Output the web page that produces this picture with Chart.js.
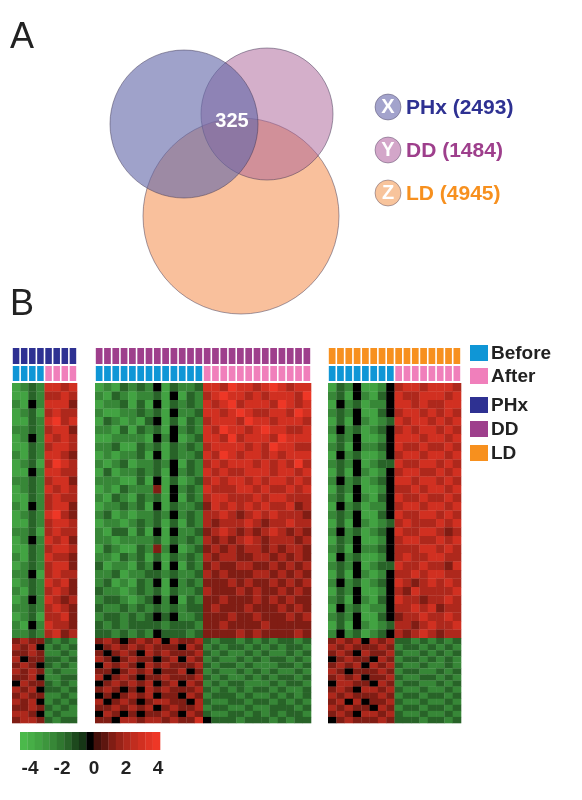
<!DOCTYPE html>
<html>
<head>
<meta charset="utf-8">
<script src="https://cdn.jsdelivr.net/npm/chart.js@4.4.1/dist/chart.umd.min.js"></script>
<style>
  body { margin: 0; background: #fff; }
  canvas { display: block; }
</style>
</head>
<body>
<canvas id="myChart" width="582" height="800"></canvas>
<script>
// venn sets
const setNames = ['PHx', 'DD', 'LD'];
const setLetters = ['X', 'Y', 'Z'];
const setSizes = [2493, 1484, 4945];
const overlapAll = 325;

// heatmap groups: columns before / after
const groupCols = [[4, 4], [13, 13], [8, 8]];

// each char is an expression value + 4 (0 = -4, 8 = +4)
const phxRows = [
  "12327767","11326676","21427775","12316766","11327867","22326775","12427676","11326776",
  "21327765","12316876","11427766","22326775","12327676","11326766","21426775","12327865",
  "11326776","22316766","12427675","11326776","21327665","12326775","22416766","12327675",
  "21326765","12427656","22326765","12316675","21427665","22326756",
  "56553232","65642323","55652232","64553323","56543232","65652322","55642233","46553232",
  "65643323","56552232","65642323","55653232","66542322","56653233"
];
const ddRows = [
  "12132324132237768776787677","21321223141326787767677768","12231314132327678677768767",
  "21122323142237767876677687","13212134131326777687767776","22131323142327687767877667",
  "11222214241237768677768777","22311323132326777767687766","12122314132237687677676777",
  "21231223241326767776767686","13122323142327676677767767","22211314131236767767677676",
  "12132225142327666776766767","21321323141326776667677666","12232314132235767676766756",
  "23121223242326676567676665","12212323131326566676566766","21331314142235676565676565",
  "22122223132326565676566656","13211325241235656566565665","22132313132326566556656565",
  "31221324141325655665565656","22312233232236565556656565","23121324142325556565565656",
  "32212323132236555656556565","23321234241325565556565655","32232323232335655565556565",
  "23323234342235556556555656","32323333233325565555655555","33232324333235555656555565",
  "56545656465563233232323323","45656565554652323323232332","54565465655563232232322323",
  "65456554564652322323233232","46565465655563233232223323","55456564556452322323232232",
  "64565455655563232232323323","45656564564652323322232332","56545465655563232323323223",
  "45456564554652333232232323","64565456655463223323323232","55656564565562332232233323",
  "46545455654653223323232332","55466566565574333233323233"
];
const ldRows = [
  "1324112467767776","2314213476677767","1423122477676677","2324113467767676",
  "1314212376776767","2423123467677676","1324112477767767","2314223476676676",
  "1423112467767767","2324123376677676","1314212467766767","2423123477677676",
  "1324112466767767","2314213476676676","1423122467767767","2324113476677676",
  "1314212367666767","2423123476677656","1324112467766767","2314223466677676",
  "1423112467667766","2324123376676657","1314212466767766","2423123476567676",
  "1324112465766667","2314213476656676","1423122466767566","2324113456676676",
  "1314212366567667","2423123465676566",
  "5656465633232323","6565556523323232","5654655632232323","4565546523323232",
  "5656465632232232","6545556523322323","5656455632233232","4665546523322323",
  "5654665632232232","6565556523323323","5646455632232232","6565546523323323",
  "5654665632232232","4565556533323323"
];
const upperRows = 30;

// colour bar
const barValues = [-4, -3.5, -3, -2.5, -2, -1.5, -1, -0.5, -0.25, 0, 0.25, 0.5, 1, 1.5, 2, 2.5, 3, 3.5, 4];
const barTicks = ['-4', '-2', '0', '2', '4'];

// layout (in canvas units, scale is 1:1 with pixels)
const groupX = [[12, 77], [95, 311], [328, 461]];
const heatTop = 383, heatSplit = 638, heatBottom = 723;
const groupColors = ['#2e3192', '#9e3f8c', '#f7901e'];
const beforeColor = '#0f96d6', afterColor = '#f07fbb';

function heatColor(v) {
  const t = Math.min(1, Math.abs(v) / 4);
  const s = Math.pow(t, 0.45);
  if (v < 0) return `rgb(${Math.round(75 * s)},${Math.round(185 * s)},${Math.round(75 * s)})`;
  return `rgb(${Math.round(238 * s)},${Math.round(55 * s)},${Math.round(38 * s)})`;
}

const heatPlugin = {
  id: 'heat',
  afterDatasetsDraw(chart) {
    const c = chart.ctx, xs = chart.scales.x, ys = chart.scales.y;
    const rect = (x0, y0, x1, y1, col) => {
      const a = xs.getPixelForValue(x0), b = xs.getPixelForValue(x1);
      const p = ys.getPixelForValue(y0), q = ys.getPixelForValue(y1);
      c.fillStyle = col;
      c.fillRect(a, p, b - a, q - p);
    };
    const txt = (s, x, y, font, col, align) => {
      c.font = font; c.fillStyle = col; c.textAlign = align || 'left'; c.textBaseline = 'middle';
      c.fillText(s, xs.getPixelForValue(x), ys.getPixelForValue(y));
    };
    c.save();
    [phxRows, ddRows, ldRows].forEach((rows, g) => {
      const [x0, x1] = groupX[g];
      const nc = groupCols[g][0] + groupCols[g][1];
      const cw = (x1 - x0) / nc;
      for (let j = 0; j < nc; j++) {
        const a = x0 + j * cw;
        rect(a + 0.8, 348, a + cw - 0.8, 364, groupColors[g]);
        rect(a + 0.8, 366, a + cw - 0.8, 381, j < groupCols[g][0] ? beforeColor : afterColor);
      }
      const lower = rows.length - upperRows;
      rows.forEach((r, i) => {
        let y0, y1;
        if (i < upperRows) {
          const h = (heatSplit - heatTop) / upperRows;
          y0 = heatTop + i * h; y1 = y0 + h;
        } else {
          const h = (heatBottom - heatSplit) / lower;
          y0 = heatSplit + (i - upperRows) * h; y1 = y0 + h;
        }
        for (let j = 0; j < nc; j++) {
          rect(x0 + j * cw, y0, x0 + (j + 1) * cw + 0.3, y1 + 0.3, heatColor(+r[j] - 4));
        }
      });
    });
    // colour bar
    const bw = 140 / barValues.length;
    barValues.forEach((v, i) => rect(20 + i * bw, 732, 20 + (i + 1) * bw + 0.3, 750, heatColor(v)));
    barTicks.forEach((t, i) => txt(t, 30 + i * 32, 769, 'bold 19px "Liberation Sans", Arial', '#222', 'center'));
    // legend
    [['Before', beforeColor, 353], ['After', afterColor, 376]].forEach(([s, col, y]) => {
      rect(470, y - 8, 488, y + 8, col);
      txt(s, 491, y + 1, 'bold 19px "Liberation Sans", Arial', '#222');
    });
    setNames.forEach((s, i) => {
      const y = 405 + i * 24;
      rect(470, y - 8, 488, y + 8, groupColors[i]);
      txt(s, 491, y + 1, 'bold 19px "Liberation Sans", Arial', '#222');
    });
    // panel letters and venn labels
    txt('A', 10, 38, '36px "Liberation Sans", Arial', '#222');
    txt('B', 10, 305, '36px "Liberation Sans", Arial', '#222');
    txt(String(overlapAll), 232, 121, 'bold 20px "Liberation Sans", Arial', '#fff', 'center');
    const tc = ['#2e3192', '#9e3f8c', '#f7901e'];
    setNames.forEach((s, i) => {
      const y = 107 + i * 43;
      txt(setLetters[i], 388, y, 'bold 20px "Liberation Sans", Arial', '#fff', 'center');
      txt(s + ' (' + setSizes[i] + ')', 406, y + 1, 'bold 21px "Liberation Sans", Arial', tc[i]);
    });
    c.restore();
  }
};

new Chart(document.getElementById('myChart'), {
  type: 'bubble',
  data: {
    datasets: [
      { label: 'PHx', data: [{ x: 184, y: 124, r: 74 }], backgroundColor: 'rgba(100,105,170,0.62)', borderColor: 'rgba(60,50,80,0.6)', borderWidth: 0.8 },
      { label: 'DD', data: [{ x: 267, y: 114, r: 66 }], backgroundColor: 'rgba(170,95,150,0.5)', borderColor: 'rgba(60,50,80,0.6)', borderWidth: 0.8 },
      { label: 'LD', data: [{ x: 241, y: 216, r: 98 }], backgroundColor: 'rgba(245,150,90,0.6)', borderColor: 'rgba(60,50,80,0.6)', borderWidth: 0.8 },
      { label: 'keys', data: [{ x: 388, y: 107, r: 13 }, { x: 388, y: 150, r: 13 }, { x: 388, y: 193, r: 13 }],
        backgroundColor: ['#a3a3cc', '#d3a6c9', '#f8c49c'], borderColor: 'rgba(60,50,80,0.5)', borderWidth: 0.8 }
    ]
  },
  plugins: [heatPlugin],
  options: {
    responsive: false,
    animation: false,
    layout: { padding: 0, autoPadding: false },
    plugins: { legend: { display: false }, tooltip: { enabled: false } },
    scales: {
      x: { type: 'linear', min: 0, max: 582, display: false },
      y: { type: 'linear', min: 0, max: 800, reverse: true, display: false }
    }
  }
});
</script>
</body>
</html>
